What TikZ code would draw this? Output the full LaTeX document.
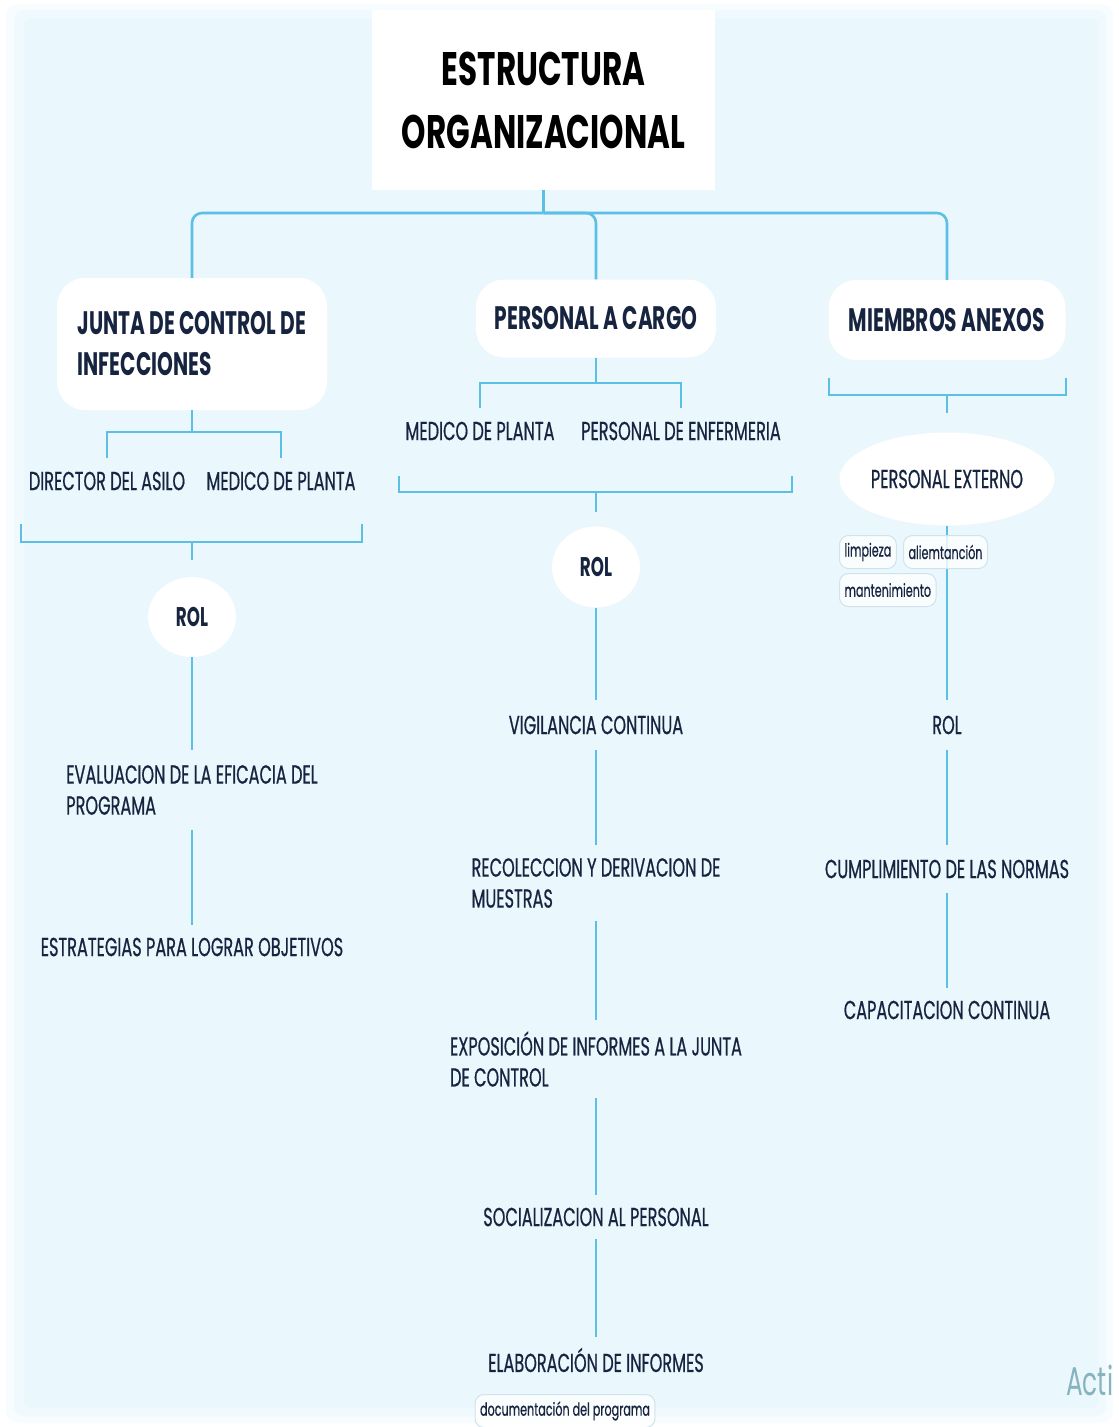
\documentclass[tikz,border=0pt]{standalone}
\usepackage{fontspec}
\setmainfont{Poppins}
\newfontfamily\pf[FakeStretch=0.62]{Poppins}
\newfontfamily\pfm[FakeStretch=0.62, FakeBold=0.6]{Poppins}
\newfontfamily\pft[FakeStretch=0.66]{Poppins}
\usetikzlibrary{shapes.geometric}
\definecolor{bgblue}{HTML}{EAF7FD}
\definecolor{lineblue}{HTML}{5BBFE6}
\definecolor{navy}{HTML}{172440}
\definecolor{tagborder}{HTML}{CFE3EC}
\definecolor{actigray}{HTML}{86B3BE}
\begin{document}
\begin{tikzpicture}[x=1pt,y=-1pt,
  conn/.style={draw=lineblue, line width=2.6pt},
  titlebox/.style={fill=white, minimum width=343, minimum height=180, align=center,
    font=\pft\bfseries\fontsize{47}{63}\selectfont, text=black},
  l1box/.style={fill=white, rounded corners=28pt, align=center,
    font=\pf\bfseries\fontsize{32.5}{41}\selectfont, text=navy},
  item/.style={font=\pfm\fontsize{26}{31}\selectfont, text=navy, inner sep=2pt},
  rolnode/.style={ellipse, fill=white, inner sep=0pt, text=navy,
    font=\pf\bfseries\fontsize{27}{30}\selectfont},
  tag/.style={draw=tagborder, line width=1pt, fill=white, fill opacity=0.8, text opacity=1,
    rounded corners=9pt, text=navy, inner sep=5pt, minimum height=33,
    font=\pfm\fontsize{18}{20}\selectfont}
]
\useasboundingbox (0,0) rectangle (1119,1427);
% background
\fill[white] (0,0) rectangle (1119,1427);
\fill[bgblue,opacity=0.35,rounded corners=12] (6,4) rectangle (1113,1423);
\fill[bgblue,opacity=0.5,rounded corners=10] (14,10) rectangle (1106,1416);
\fill[bgblue,rounded corners=8] (24,18) rectangle (1098,1408);

% title
\node[titlebox] (title) at (543.5,100) {ESTRUCTURA\\ORGANIZACIONAL};

% level 1
\node[l1box, minimum width=270, minimum height=132, align=left] (junta) at (192,344) {JUNTA DE CONTROL DE\\INFECCIONES};
\node[l1box, minimum width=240, minimum height=78] (personal) at (596,318.5) {PERSONAL A CARGO};
\node[l1box, minimum width=237, minimum height=80] (miembros) at (947,320) {MIEMBROS ANEXOS};

\coordinate (hub) at (543.5,213);
\draw[conn] (title.south) -- (hub);
\draw[conn, rounded corners=10] (hub) -| (junta.north);
\draw[conn, rounded corners=10] (hub) -| (personal.north);
\draw[conn, rounded corners=10] (hub) -| (miembros.north);

% ---- left column
\coordinate (jsplit) at (192,432);
\draw[conn] (junta.south) -- (jsplit);
\node[item, minimum height=46] (dir) at (107,481) {DIRECTOR DEL ASILO};
\node[item, minimum height=46] (med1) at (281,481) {MEDICO DE PLANTA};
\draw[conn] (jsplit) -| (dir.north);
\draw[conn] (jsplit) -| (med1.north);
\draw[conn] (21,524) |- (362,542) -- (362,524);
\coordinate (jb) at (192,542);
\coordinate (jbend) at (192,560);
\draw[conn] (jb) -- (jbend);
\node[rolnode, minimum width=88, minimum height=80] (rol1) at (192,617) {ROL};
\node[item, align=left, minimum height=80] (eval) at (192,790) {EVALUACION DE LA EFICACIA DEL\\PROGRAMA};
\node[item, minimum height=44] (estr) at (192,947) {ESTRATEGIAS PARA LOGRAR OBJETIVOS};
\draw[conn] (rol1) -- (eval);
\draw[conn] (eval) -- (estr);

% ---- middle column
\coordinate (psplit) at (596,383);
\draw[conn] (personal.south) -- (psplit);
\node[item, minimum height=46] (med2) at (480,431) {MEDICO DE PLANTA};
\node[item, minimum height=46] (enf) at (681,431) {PERSONAL DE ENFERMERIA};
\draw[conn] (psplit) -| (med2.north);
\draw[conn] (psplit) -| (enf.north);
\draw[conn] (399,476) |- (792,492) -- (792,476);
\coordinate (pb) at (596,492);
\coordinate (pbend) at (596,512);
\draw[conn] (pb) -- (pbend);
\node[rolnode, minimum width=88, minimum height=81] (rol2) at (596,567) {ROL};
\node[item, minimum height=50] (vig) at (596,725) {VIGILANCIA CONTINUA};
\node[item, align=left, minimum height=76] (rec) at (596,883) {RECOLECCION Y DERIVACION DE\\MUESTRAS};
\node[item, align=left, minimum height=78] (expo) at (596,1059) {EXPOSICIÓN DE INFORMES A LA JUNTA\\DE CONTROL};
\node[item, minimum height=44] (soc) at (596,1217) {SOCIALIZACION AL PERSONAL};
\node[item, minimum height=46] (elab) at (596,1360) {ELABORACIÓN DE INFORMES};
\draw[conn] (rol2) -- (vig);
\draw[conn] (vig) -- (rec);
\draw[conn] (rec) -- (expo);
\draw[conn] (expo) -- (soc);
\draw[conn] (soc) -- (elab);
\node[tag] (doc) at (565,1411) {documentación del programa};

% ---- right column
\draw[conn] (829,378) |- (1066,395) -- (1066,378);
\coordinate (mb) at (947,395);
\coordinate (mbend) at (947,413);
\draw[conn] (mb) -- (mbend);
\node[ellipse, fill=white, inner sep=0pt, minimum width=215, minimum height=93, text=navy,
  font=\pfm\fontsize{26}{28}\selectfont] (ext) at (947,479) {PERSONAL EXTERNO};
\node[item, minimum height=50] (rol3) at (947,725) {ROL};
\draw[conn] (ext) -- (rol3);
\node[tag, anchor=west] (limp) at (839,552) {limpieza};
\node[tag, anchor=west] (alim) at (903,552) {aliemtanción};
\node[tag, anchor=west] (mant) at (839,590) {mantenimiento};
\node[item, minimum height=48] (cump) at (947,869) {CUMPLIMIENTO DE LAS NORMAS};
\node[item, minimum height=44] (capc) at (947,1010) {CAPACITACION CONTINUA};
\draw[conn] (rol3) -- (cump);
\draw[conn] (cump) -- (capc);

% watermark fragment
\node[anchor=west, text=actigray, font=\pf\fontsize{40}{40}\selectfont, inner sep=0pt] (acti) at (1066,1380) {Acti};
\end{tikzpicture}
\end{document}
